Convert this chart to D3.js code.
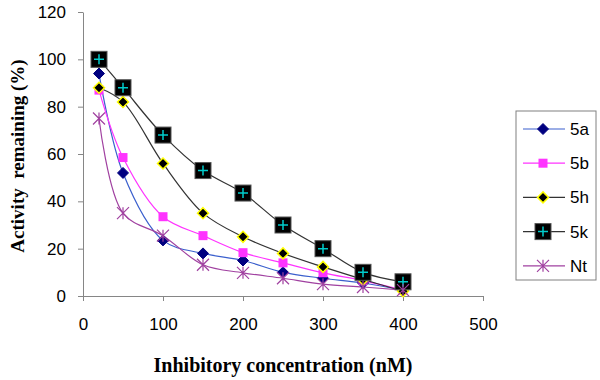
<!DOCTYPE html>
<html><head><meta charset="utf-8">
<script src="https://cdn.jsdelivr.net/npm/d3@7"></script>
<style>body{margin:0;background:#fff}svg{display:block}</style>
</head><body><svg id="c" width="600" height="380"></svg>
<script>
const concentrations = [20, 50, 100, 150, 200, 250, 300, 350, 400];
const s5a = [94, 52, 23.5, 18, 15, 10, 7.5, 5.5, 2.5];
const s5b = [87, 58.5, 33.5, 25.5, 18.3, 14, 9.8, 6.5, 2.5];
const s5h = [88, 82, 56, 35, 25, 18, 12.3, 7, 2];
const s5k = [100, 88, 68, 53, 43.5, 30, 20, 10, 6];
const sNt = [75, 35, 25.5, 13.2, 9.8, 7.5, 5, 3.8, 2.5];
const seriesNames = ["5a", "5b", "5h", "5k", "Nt"];
const xTicks = [0, 100, 200, 300, 400, 500];
const yTicks = [0, 20, 40, 60, 80, 100, 120];

const svg = d3.select("#c");
const x = d3.scaleLinear().domain([0, 500]).range([83, 483]);
const y = d3.scaleLinear().domain([0, 120]).range([296, 12]);
const axisColor = "#868686";

const styles = {
  "5a": {line: "#3a5fcd", marker: "diamond", fill: "#000080", stroke: "#000080", size: 11},
  "5b": {line: "#ff33ff", marker: "square", fill: "#ff33ff", stroke: "#ff33ff", size: 9},
  "5h": {line: "#333333", marker: "diamond", fill: "#000000", stroke: "#ffff00", size: 11},
  "5k": {line: "#333333", marker: "bigsquare", fill: "#000000", stroke: "#00cccc", size: 16},
  "Nt": {line: "#a040a0", marker: "star", fill: "none", stroke: "#a040a0", size: 12}
};
const dataMap = {"5a": s5a, "5b": s5b, "5h": s5h, "5k": s5k, "Nt": sNt};

// axes
const xAxis = svg.append("g").attr("transform", "translate(0,296)")
  .call(d3.axisBottom(x).tickValues(xTicks).tickSize(5).tickPadding(17).tickSizeOuter(0));
const yAxis = svg.append("g").attr("transform", "translate(83,0)")
  .call(d3.axisLeft(y).tickValues(yTicks).tickSize(5).tickPadding(12).tickSizeOuter(0));
[xAxis, yAxis].forEach(a => {
  a.select(".domain").attr("stroke", axisColor);
  a.selectAll(".tick line").attr("stroke", axisColor);
  a.selectAll(".tick text").attr("font-family", "Liberation Sans, Arial, sans-serif")
    .attr("font-size", 17).attr("fill", "#000");
});

const line = d3.line().x(d => x(d[0])).y(d => y(d[1])).curve(d3.curveCatmullRom.alpha(0.5));

function drawMarker(g, st, cx, cy) {
  const s = st.size / 2;
  if (st.marker === "diamond") {
    g.append("path").attr("d", `M${cx},${cy - s}L${cx + s},${cy}L${cx},${cy + s}L${cx - s},${cy}Z`)
      .attr("fill", st.fill).attr("stroke", st.stroke).attr("stroke-width", st.stroke === "#ffff00" ? 1.5 : 1);
  } else if (st.marker === "square") {
    g.append("rect").attr("x", cx - s).attr("y", cy - s).attr("width", st.size).attr("height", st.size)
      .attr("fill", st.fill);
  } else if (st.marker === "bigsquare") {
    g.append("rect").attr("x", cx - s).attr("y", cy - s).attr("width", st.size).attr("height", st.size)
      .attr("fill", st.fill).attr("stroke", "#555").attr("stroke-width", 1);
    g.append("path").attr("d", `M${cx - 5},${cy}H${cx + 5}M${cx},${cy - 5}V${cy + 5}`)
      .attr("stroke", st.stroke).attr("stroke-width", 1.5);
  } else if (st.marker === "star") {
    g.append("path").attr("d", `M${cx - s},${cy - s}L${cx + s},${cy + s}M${cx - s},${cy + s}L${cx + s},${cy - s}M${cx},${cy - s}V${cy + s}`)
      .attr("stroke", st.stroke).attr("stroke-width", 1.2).attr("fill", "none");
  }
}

const lines = svg.append("g");
seriesNames.forEach(n => {
  const pts = concentrations.map((c, i) => [c, dataMap[n][i]]);
  lines.append("path").attr("d", line(pts)).attr("fill", "none")
    .attr("stroke", styles[n].line).attr("stroke-width", 1.2);
});
const marks = svg.append("g");
seriesNames.forEach(n => {
  concentrations.forEach((c, i) => drawMarker(marks, styles[n], x(c), y(dataMap[n][i])));
});

// legend
const lg = svg.append("g");
lg.append("rect").attr("x", 516).attr("y", 111).attr("width", 80).attr("height", 169)
  .attr("fill", "#fff").attr("stroke", "#808080").attr("stroke-width", 1);
seriesNames.forEach((n, i) => {
  const ly = 129 + i * 34.2;
  const st = styles[n];
  lg.append("line").attr("x1", 523).attr("x2", 565).attr("y1", ly).attr("y2", ly)
    .attr("stroke", st.line).attr("stroke-width", 1.2);
  drawMarker(lg, st, 543, ly);
  lg.append("text").attr("x", 570).attr("y", ly + 6).text(n)
    .attr("font-family", "Liberation Sans, Arial, sans-serif").attr("font-size", 17).attr("fill", "#000");
});

// titles
svg.append("text").attr("x", 283).attr("y", 372).attr("text-anchor", "middle")
  .attr("font-family", "Liberation Serif, Times New Roman, serif").attr("font-weight", "bold")
  .attr("font-size", 20).text("Inhibitory concentration (nM)");
svg.append("text").attr("transform", "translate(24,156) rotate(-90)").attr("text-anchor", "middle")
  .attr("font-family", "Liberation Serif, Times New Roman, serif").attr("font-weight", "bold")
  .attr("font-size", 19).attr("xml:space", "preserve").style("white-space", "pre")
  .text("Activity  remaining (%)");
</script></body></html>
